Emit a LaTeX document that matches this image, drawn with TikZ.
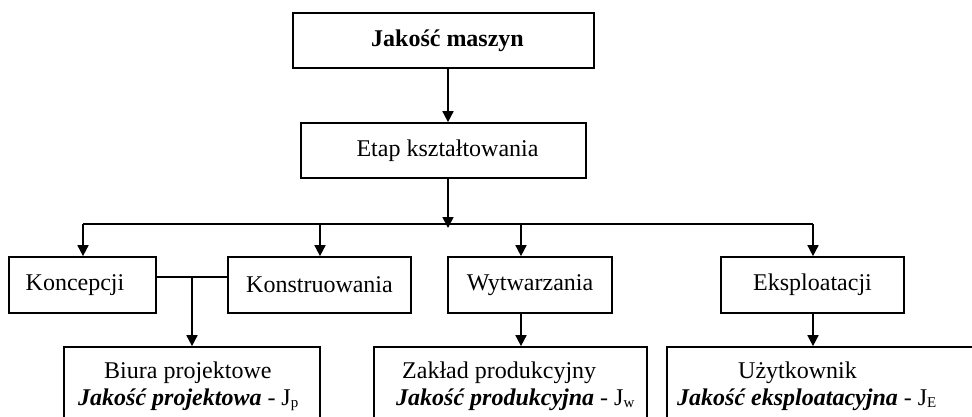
\documentclass[tikz,border=0pt]{standalone}
\usepackage{fontspec}
\setmainfont{Liberation Serif}
\usetikzlibrary{arrows.meta}
% small lowered index after J
\newcommand\lowidx[1]{\raisebox{-0.25ex}{\fontsize{15}{15}\selectfont #1}}
\begin{document}
\begin{tikzpicture}[x=1pt,y=-1pt,
  box/.style={draw, line width=1.7pt, inner sep=0pt, font=\fontsize{24}{28}\selectfont},
  link/.style={line width=1.7pt},
  arr/.style={link, -{Triangle[length=11pt,width=11pt]}},
  txt/.style={inner sep=0pt, anchor=base west, font=\fontsize{24}{28}\selectfont}]
\useasboundingbox (0,0) rectangle (972,417);
\clip (0,0) rectangle (972,417);

% upper levels
\node[box, minimum width=301pt, minimum height=55pt] (top) at (443.5,40.5)
  {\hspace*{8pt}\textbf{Jakość maszyn}};
\node[box, minimum width=285pt, minimum height=55pt] (etap) at (443.5,150.5)
  {\hspace*{8pt}Etap kształtowania};

% stages
\node[box, minimum width=147pt, minimum height=56pt] (kon) at (82.5,285) {Koncepcji\hspace*{15pt}};
\node[box, minimum width=183pt, minimum height=56pt] (kons) at (319.5,285) {Konstruowania};
\node[box, minimum width=164pt, minimum height=56pt] (wyt) at (530,285) {Wytwarzania};
\node[box, minimum width=183pt, minimum height=56pt] (eks) at (812.5,285) {Eksploatacji};

% places where quality arises
\node[box, minimum width=256pt, minimum height=100pt] (biura) at (192,397) {};
\node[box, minimum width=273pt, minimum height=100pt] (zaklad) at (510.5,397) {};
\node[box, minimum width=340pt, minimum height=100pt] (uzyt) at (837,397) {};

\node[txt] (biura1) at (104,378) {Biura projektowe};
\node[txt] (biura2) at (78,405) {\textbf{\textit{Jakość projektowa}} - J\lowidx{p}};
\node[txt] (zaklad1) at (402,378) {Zakład produkcyjny};
\node[txt] (zaklad2) at (396,405) {\textbf{\textit{Jakość produkcyjna}} - J\lowidx{w}};
\node[txt] (uzyt1) at (738,378) {Użytkownik};
\node[txt] (uzyt2) at (677,405) {\textbf{\textit{Jakość eksploatacyjna}} - J\lowidx{E}};

% connector points
\coordinate (hub) at (448,228);
\coordinate (busL) at (83,224);
\coordinate (busK) at (320,224);
\coordinate (busW) at (521,224);
\coordinate (busR) at (813,224);
\coordinate (j) at (192,277);

% connectors
\draw[arr] (top.south -| hub) -- (etap.north -| hub);
\draw[arr] (etap.south -| hub) -- (hub);
\draw[link] (busL) -- (busR);
\draw[arr] (busL) -- (kon.north -| busL);
\draw[arr] (busK) -- (kons.north -| busK);
\draw[arr] (busW) -- (wyt.north -| busW);
\draw[arr] (busR) -- (eks.north -| busR);
\draw[link] (kon.east |- j) -- (kons.west |- j);
\draw[arr] (j) -- (biura.north -| j);
\draw[arr] (wyt.south -| busW) -- (zaklad.north -| busW);
\draw[arr] (eks.south -| busR) -- (uzyt.north -| busR);
\end{tikzpicture}
\end{document}
